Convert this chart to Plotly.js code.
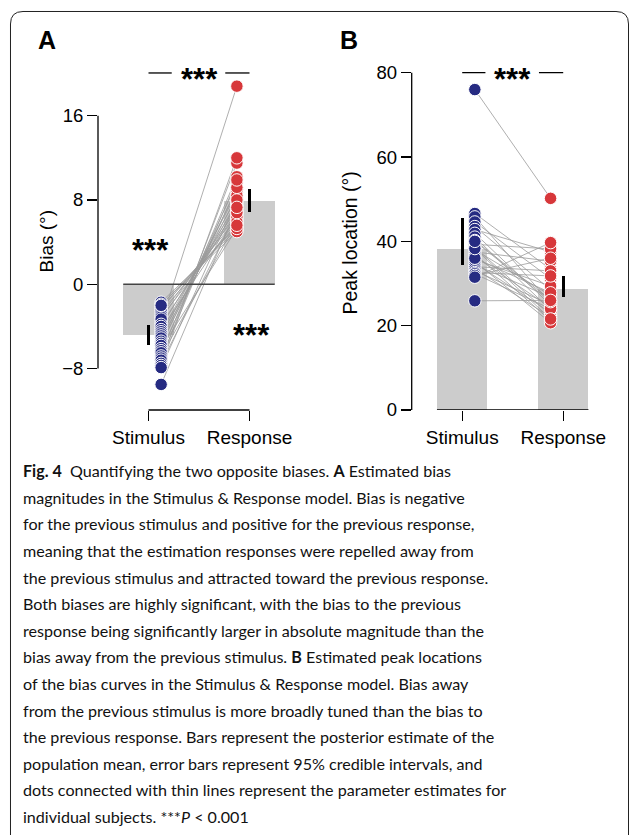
<!DOCTYPE html>
<html>
<head>
<meta charset="utf-8">
<script src="https://cdn.plot.ly/plotly-3.0.1.min.js"></script>
<style>html,body{margin:0;padding:0;background:#fff;}#chart{width:629px;height:835px;}</style>
</head>
<body>
<div id="chart"></div>
<script>
// ---------- data ----------
const categories = ['Stimulus', 'Response'];

// Panel A: bias (deg)
const biasMean = [-4.8, 7.95];
const biasCILow = [-5.8, 6.9];
const biasCIHigh = [-3.9, 9.05];
const biasStim = [-3.6, -1.7, -1.9, -2.2, -2.4, -2.6, -2.9, -3.1, -3.3, -3.8, -4.0, -4.3, -4.5, -4.7, -4.9, -5.1, -5.4, -5.6, -5.8, -6.1, -6.3, -6.5, -6.8, -7.0, -7.2, -7.5, -7.7, -7.9, -2.0, -9.5];
const biasResp = [18.8, 5.2, 5.0, 5.5, 6.2, 5.7, 6.6, 6.0, 7.1, 6.9, 7.6, 6.4, 8.2, 7.4, 8.7, 7.9, 9.0, 8.4, 9.6, 5.3, 9.2, 10.2, 5.9, 9.9, 11.5, 6.8, 12.0, 8.0, 5.6, 7.3];
const biasTicks = [-8, 0, 8, 16];
const biasTickText = ['\u22128', '0', '8', '16'];

// Panel B: peak location (deg)
const peakMean = [38.3, 28.8];
const peakCILow = [34.5, 26.9];
const peakCIHigh = [45.5, 31.8];
const peakStim = [76.0, 46.6, 45.8, 44.6, 43.5, 42.8, 41.9, 41.0, 40.2, 39.3, 38.6, 38.0, 37.5, 37.0, 36.4, 35.7, 35.2, 34.8, 34.4, 34.0, 33.5, 33.0, 32.6, 32.3, 31.9, 31.5, 36.0, 38.3, 40.0, 25.9];
const peakResp = [50.2, 33.4, 25.4, 31.2, 28.5, 37.5, 24.9, 23.7, 26.1, 38.2, 22.5, 27.2, 35.3, 21.2, 24.3, 29.4, 20.7, 23.1, 26.8, 33.0, 22.0, 25.0, 31.8, 24.0, 36.0, 39.7, 27.8, 21.6, 25.7, 26.0];
const peakTicks = [0, 20, 40, 60, 80];

const captionLines = [
  '<b>Fig. 4</b>  Quantifying the two opposite biases. <b>A</b> Estimated bias',
  'magnitudes in the Stimulus &amp; Response model. Bias is negative',
  'for the previous stimulus and positive for the previous response,',
  'meaning that the estimation responses were repelled away from',
  'the previous stimulus and attracted toward the previous response.',
  'Both biases are highly significant, with the bias to the previous',
  'response being significantly larger in absolute magnitude than the',
  'bias away from the previous stimulus. <b>B</b> Estimated peak locations',
  'of the bias curves in the Stimulus &amp; Response model. Bias away',
  'from the previous stimulus is more broadly tuned than the bias to',
  'the previous response. Bars represent the posterior estimate of the',
  'population mean, error bars represent 95% credible intervals, and',
  'dots connected with thin lines represent the parameter estimates for',
  'individual subjects. ***<i>P</i> &lt; 0.001'
];

// ---------- styling / geometry ----------
const W = 629, H = 835;
const fx = p => p / W;
const fy = p => 1 - p / H;
const BLUE = '#262b82', RED = '#d7373a', BARGRAY = '#cccccc', LINEGRAY = '#9a9a9a';
const FONT = 'Liberation Sans, Arial, Helvetica, sans-serif';
const STIM_X = 0.125, RESP_X = 0.875;

// Panel A scale: 10.54 px per unit, zero at 284.3px
const kA = 10.54, zeroA = 284.3;
const rangeA = [-(410 - zeroA) / kA, (zeroA - 60) / kA];
const kB = 4.216;
const rangeB = [0, (410 - 60) / kB];

function pairLines(s, r) {
  const x = [], y = [];
  for (let i = 0; i < s.length; i++) { x.push(STIM_X, RESP_X, null); y.push(s[i], r[i], null); }
  return { x, y };
}
function panelTraces(mean, lo, hi, stim, resp, xa, ya) {
  const pl = pairLines(stim, resp);
  return [
    { type: 'bar', x: [0, 1], y: mean, width: 0.5, xaxis: xa, yaxis: ya,
      marker: { color: BARGRAY, line: { width: 0 } },
      error_y: { type: 'data', symmetric: false,
        array: mean.map((m, i) => hi[i] - m), arrayminus: mean.map((m, i) => m - lo[i]),
        width: 0, thickness: 2.6, color: '#000' } },
    { type: 'scatter', mode: 'lines', x: pl.x, y: pl.y, xaxis: xa, yaxis: ya,
      line: { color: LINEGRAY, width: 0.8 }, connectgaps: false },
    { type: 'scatter', mode: 'markers', x: stim.map(() => STIM_X), y: stim, xaxis: xa, yaxis: ya, cliponaxis: false,
      marker: { size: 12.5, color: BLUE, line: { color: '#fff', width: 1 } } },
    { type: 'scatter', mode: 'markers', x: resp.map(() => RESP_X), y: resp, xaxis: xa, yaxis: ya, cliponaxis: false,
      marker: { size: 12.5, color: RED, line: { color: '#fff', width: 1 } } }
  ];
}

const data = [
  ...panelTraces(biasMean, biasCILow, biasCIHigh, biasStim, biasResp, 'x', 'y'),
  ...panelTraces(peakMean, peakCILow, peakCIHigh, peakStim, peakResp, 'x2', 'y2')
];

const axBase = { showgrid: false, zeroline: false, showline: false, ticks: 'outside', ticklen: 10,
  tickwidth: 1.3, tickcolor: '#000', fixedrange: true, tickfont: { family: FONT, size: 18.5, color: '#000' } };

const blk = { color: '#000', width: 1.3 };
const shapes = [
  // Panel A axes
  { type: 'line', xref: 'x domain', yref: 'y', x0: 0, x1: 0, y0: biasTicks[0], y1: biasTicks[biasTicks.length - 1], line: blk },
  { type: 'line', xref: 'x', yref: 'y domain', x0: 0, x1: 1, y0: 0, y1: 0, line: blk },
  { type: 'line', xref: 'x', yref: 'y', x0: -0.25, x1: 1.25, y0: 0, y1: 0, line: { color: '#444', width: 1.5 } },
  { type: 'line', xref: 'x', yref: 'y', x0: 0, x1: 0.23, y0: 20.05, y1: 20.05, line: blk },
  { type: 'line', xref: 'x', yref: 'y', x0: 0.76, x1: 1, y0: 20.05, y1: 20.05, line: blk },
  // Panel B axes
  { type: 'line', xref: 'x2 domain', yref: 'y2', x0: 0, x1: 0, y0: peakTicks[0], y1: peakTicks[peakTicks.length - 1], line: blk },
  { type: 'line', xref: 'x2', yref: 'y2', x0: -0.25, x1: 1.25, y0: 0, y1: 0, line: blk },
  { type: 'line', xref: 'x2', yref: 'y2', x0: 0, x1: 0.23, y0: 80, y1: 80, line: blk },
  { type: 'line', xref: 'x2', yref: 'y2', x0: 0.76, x1: 1, y0: 80, y1: 80, line: blk }
];
// figure frame (rounded top corners)
const bx = p => fx(p).toFixed(5), by = p => fy(p).toFixed(5);
shapes.push({ type: 'path', xref: 'paper', yref: 'paper', layer: 'above',
  path: `M ${bx(10.5)},${by(835)} L ${bx(10.5)},${by(24)} Q ${bx(10.5)},${by(11.5)} ${bx(23)},${by(11.5)} L ${bx(616)},${by(11.5)} Q ${bx(628.5)},${by(11.5)} ${bx(628.5)},${by(24)} L ${bx(628.5)},${by(835)}`,
  line: { color: '#222', width: 1 } });

const starFont = { family: FONT, size: 31, color: '#000' };
const annotations = [
  { text: '<b>A</b>', xref: 'paper', yref: 'paper', x: fx(35.5), y: fy(39.5), xanchor: 'left', yanchor: 'middle', showarrow: false, font: { family: FONT, size: 25, color: '#000' } },
  { text: '<b>B</b>', xref: 'paper', yref: 'paper', x: fx(337.5), y: fy(39.5), xanchor: 'left', yanchor: 'middle', showarrow: false, font: { family: FONT, size: 25, color: '#000' } },
  { text: 'Bias (°)', xref: 'paper', yref: 'paper', x: fx(46), y: fy(241.5), textangle: -90, xanchor: 'center', yanchor: 'middle', showarrow: false, font: { family: FONT, size: 19, color: '#000' } },
  { text: 'Peak location (°)', xref: 'paper', yref: 'paper', x: fx(349), y: fy(242.5), textangle: -90, xanchor: 'center', yanchor: 'middle', showarrow: false, font: { family: FONT, size: 19.5, color: '#000' } },
  { text: '<b>***</b>', xref: 'x', yref: 'y', x: 0.5, y: 20.05, yshift: -7, showarrow: false, font: starFont },
  { text: '<b>***</b>', xref: 'x', yref: 'y', x: 0.02, y: 3.9, yshift: -7, showarrow: false, font: starFont },
  { text: '<b>***</b>', xref: 'x', yref: 'y', x: 1.02, y: -4.2, yshift: -7, showarrow: false, font: starFont },
  { text: '<b>***</b>', xref: 'x2', yref: 'y2', x: 0.5, y: 80, yshift: -7, showarrow: false, font: starFont }
];
captionLines.forEach((t, i) => {
  annotations.push({ text: t, xref: 'paper', yref: 'paper', x: fx(21), y: fy(470.7 + i * 26.6),
    xanchor: 'left', yanchor: 'middle', showarrow: false, align: 'left',
    font: { family: 'Lato, sans-serif', size: 16.1, color: '#111' } });
});

const layout = {
  width: W, height: H, margin: { l: 0, r: 0, t: 0, b: 0 },
  paper_bgcolor: '#fff', plot_bgcolor: 'rgba(0,0,0,0)', showlegend: false, bargap: 0,
  font: { family: FONT, size: 18, color: '#000' },
  xaxis: Object.assign({}, axBase, { domain: [fx(98), fx(300)], range: [-0.5, 1.5], tickvals: [0, 1], ticktext: categories, tickfont: { family: FONT, size: 19, color: '#000' }, anchor: 'y' }),
  yaxis: Object.assign({}, axBase, { domain: [fy(410), fy(60)], range: rangeA, tickvals: biasTicks, ticktext: biasTickText, anchor: 'x' }),
  xaxis2: Object.assign({}, axBase, { domain: [fx(411.7), fx(613.7)], range: [-0.5, 1.5], tickvals: [0, 1], ticktext: categories, tickfont: { family: FONT, size: 19, color: '#000' }, anchor: 'y2' }),
  yaxis2: Object.assign({}, axBase, { domain: [fy(410), fy(60)], range: rangeB, tickvals: peakTicks, anchor: 'x2' }),
  shapes: shapes,
  annotations: annotations
};

Plotly.newPlot('chart', data, layout, { staticPlot: true, displayModeBar: false });
</script>
</body>
</html>
